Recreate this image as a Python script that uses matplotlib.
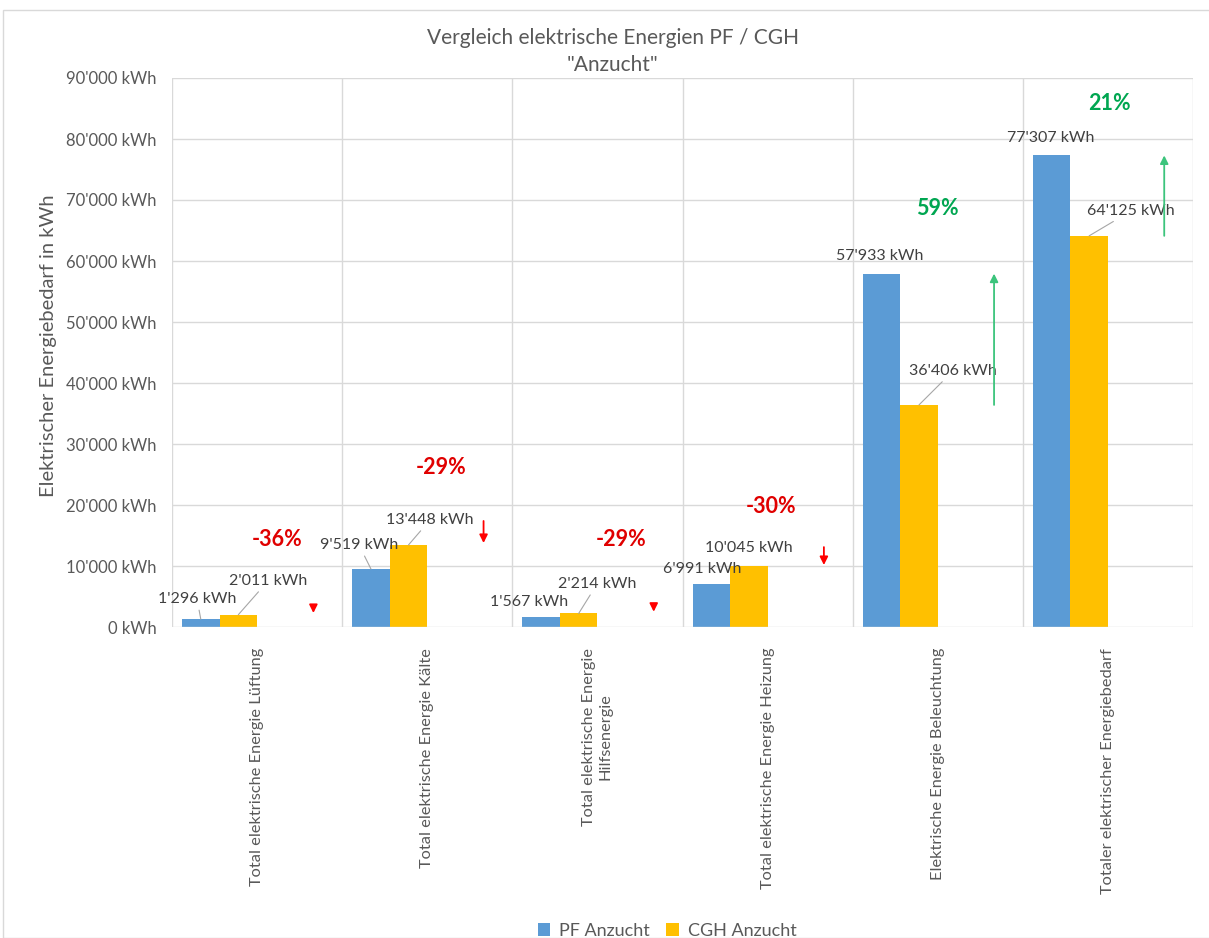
import matplotlib
matplotlib.use('Agg')
import matplotlib.pyplot as plt
from matplotlib.patches import Rectangle
import numpy as np

plt.rcParams['font.family'] = ['Lato', 'DejaVu Sans']

# categories and values
categories = ['Total elektrische Energie Lüftung',
              'Total elektrische Energie Kälte',
              'Total elektrische Energie\nHilfsenergie',
              'Total elektrische Energie Heizung',
              'Elektrische Energie Beleuchtung',
              'Totaler elektrischer Energiebedarf']
pf = [1296, 9519, 1567, 6991, 57933, 77307]
cgh = [2011, 13448, 2214, 10045, 36406, 64125]

# arrows (start -> end value)
arrow_start = [3440, 17380, 3700, 13100, 36406, 64125]
arrow_end = [2295, 13770, 2500, 10160, 57933, 77307]

# label positions (x in category units, y in kWh)
pf_lbl_x = [-0.353, 0.599, 1.598, 2.615, 3.661, 4.665]
pf_lbl_y = [4590, 13440, 4100, 9510, 60820, 80160]
cgh_lbl_x = [0.064, 1.016, 1.998, 2.891, 4.090, 5.136]
cgh_lbl_y = [7540, 17540, 7050, 12950, 41970, 68200]
pf_leader = [True, True, False, False, False, False]
cgh_leader = [True, True, True, False, True, True]
pct_x = [0.12, 1.08, 2.14, 3.02, 4.0, 5.01]
pct_y = [14300, 26100, 14300, 19700, 68600, 85900]

blue = '#5B9BD5'
yellow = '#FFC000'
grey = '#595959'
red = '#FF0000'
green_txt = '#00A651'
green_arr = '#3CC47C'

def fmt(v):
    return '{:,.0f}'.format(v).replace(',', "'") + ' kWh'

fig = plt.figure(figsize=(12.09, 9.38), dpi=100)
ax = fig.add_axes([172/1209, 1-627/938, (1193-172)/1209, (627-78)/938])

x = np.arange(len(categories))
w = 0.2206
ax.bar(x - 1.5*w, pf, w, color=blue, label='PF Anzucht', zorder=3)
ax.bar(x - 0.5*w, cgh, w, color=yellow, label='CGH Anzucht', zorder=3)

ax.set_xlim(-0.5, len(categories) - 0.5)
ax.set_ylim(0, 90000)
ax.set_yticks(np.arange(0, 90001, 10000))
ax.set_yticklabels([fmt(v) for v in np.arange(0, 90001, 10000)], fontsize=12, color=grey)
ax.set_xticks(x)
ax.set_xticklabels(categories, rotation=90, fontsize=11.8, color=grey, va='top', ha='center',
                   multialignment='center')
ax.tick_params(length=0, pad=11)
ax.tick_params(axis='x', pad=15)

# grid: horizontal lines and vertical lines at category borders
for v in np.arange(10000, 90001, 10000):
    ax.axhline(v, color='#D9D9D9', lw=1, zorder=1)
for b in np.arange(-0.5, len(categories) + 0.5, 1):
    ax.axvline(b, color='#D9D9D9', lw=1, zorder=1)
for s in ax.spines.values():
    s.set_visible(False)
ax.axhline(0, color='#D9D9D9', lw=1, zorder=4)

ax.set_ylabel('Elektrischer Energiebedarf in kWh', fontsize=14.5, color=grey)
ax.yaxis.set_label_coords(-0.113, 0.512)

# data labels
for i in range(len(categories)):
    for val, lx, ly, lead, off in [(pf[i], pf_lbl_x[i], pf_lbl_y[i], pf_leader[i], -1.5*w),
                                   (cgh[i], cgh_lbl_x[i], cgh_lbl_y[i], cgh_leader[i], -0.5*w)]:
        props = dict(arrowstyle='-', color='#A6A6A6', lw=0.8, shrinkA=1, shrinkB=0) if lead else None
        ax.annotate(fmt(val), xy=(i + off, val), xytext=(lx, ly), textcoords='data',
                    ha='center', va='center', fontsize=11.5, color='#404040',
                    arrowprops=props, zorder=5)

# change arrows and percentages
for i in range(len(categories)):
    pct = (pf[i] - cgh[i]) / cgh[i] * 100
    up = pct > 0
    col = green_arr if up else red
    ax.annotate('', xy=(i + 1.5*w, arrow_end[i]), xytext=(i + 1.5*w, arrow_start[i]),
                arrowprops=dict(arrowstyle='-|>', color=col, lw=1.3, mutation_scale=12,
                                shrinkA=0, shrinkB=0), zorder=5)
    ax.text(pct_x[i], pct_y[i], '{:.0f}%'.format(pct), ha='center', va='center',
            fontsize=15.5, fontweight='bold', color=green_txt if up else '#E00000', zorder=5)

fig.text(0.507, 1-38/938, 'Vergleich elektrische Energien PF / CGH', ha='center', va='center',
         fontsize=15, color=grey)
fig.text(0.507, 1-65/938, '"Anzucht"', ha='center', va='center', fontsize=15, color=grey)

fig.legend(loc='center', bbox_to_anchor=(0.552, 1-931/938), ncol=2, frameon=False,
           fontsize=13, handlelength=0.7, handleheight=0.7, columnspacing=0.9,
           handletextpad=0.5, labelcolor=grey)

fig.patches.append(Rectangle((3/1209, 0), 1, 1-10/938, transform=fig.transFigure,
                             fill=False, edgecolor='#D9D9D9', lw=1))

fig.savefig('out.png', dpi=100)
